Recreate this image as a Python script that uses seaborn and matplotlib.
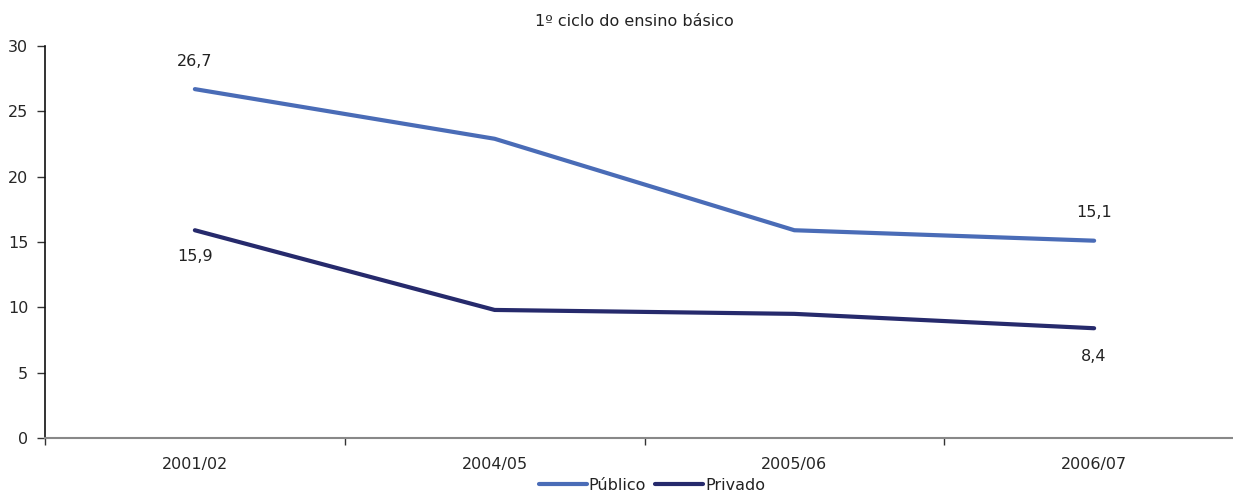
import matplotlib
matplotlib.use("Agg")
import matplotlib.pyplot as plt
import seaborn as sns
import pandas as pd
import numpy as np

years = ["2001/02", "2004/05", "2005/06", "2006/07"]
publico = [26.7, 22.9, 15.9, 15.1]
privado = [15.9, 9.8, 9.5, 8.4]
series = ["Público", "Privado"]
colors = ["#4A6CB7", "#262A6C"]

df = pd.DataFrame({
    "Ano": years * 2,
    "Valor": publico + privado,
    "Ensino": [series[0]] * len(years) + [series[1]] * len(years),
})

sns.set_style("white")
plt.rcParams["font.family"] = ["DejaVu Sans"]
plt.rcParams["text.color"] = "#222222"
fs = 11.5

fig = plt.figure(figsize=(12.33, 4.96), dpi=100)
ax = fig.add_axes([45 / 1233, 58 / 496, 1199 / 1233, 392 / 496])

sns.lineplot(data=df, x="Ano", y="Valor", hue="Ensino", palette=colors,
             linewidth=3, sort=False, ax=ax, legend=True)

ax.set_xlim(-0.5, len(years) - 0.5)
ax.set_ylim(0, 30)
ax.set_yticks(np.arange(0, 31, 5))
ax.set_xticks(range(len(years)))
ax.set_xticklabels(years)
ax.set_xticks(np.arange(-0.5, len(years), 1), minor=True)
ax.tick_params(axis="x", which="major", bottom=True, length=0, pad=14, labelsize=fs)
ax.tick_params(axis="x", which="minor", bottom=True, length=5, width=1,
               color="#333333", direction="out")
ax.tick_params(axis="y", left=True, length=6, width=1, color="#333333",
               direction="out", labelsize=fs, pad=6)
ax.set_xlabel("")
ax.set_ylabel("")

for s in ["top", "right"]:
    ax.spines[s].set_visible(False)
ax.spines["left"].set_color("#111111")
ax.spines["left"].set_linewidth(1.2)
ax.spines["bottom"].set_color("#888888")
ax.spines["bottom"].set_linewidth(1.5)

# data labels at first and last points
last = len(years) - 1
ax.annotate("26,7", (0, publico[0]), xytext=(0, 20), textcoords="offset points",
            ha="center", va="center", fontsize=fs)
ax.annotate("15,9", (0, privado[0]), xytext=(0, -19), textcoords="offset points",
            ha="center", va="center", fontsize=fs)
ax.annotate("15,1", (last, publico[last]), xytext=(0, 20), textcoords="offset points",
            ha="center", va="center", fontsize=fs)
ax.annotate("8,4", (last, privado[last]), xytext=(0, -20), textcoords="offset points",
            ha="center", va="center", fontsize=fs)

fig.text(634 / 1233, 1 - 22 / 496, "1º ciclo do ensino básico", ha="center",
         va="center", fontsize=fs)

handles, labels = ax.get_legend_handles_labels()
ax.legend(handles, labels, loc="center", bbox_to_anchor=(652 / 1233, 1 - 485 / 496),
          bbox_transform=fig.transFigure, ncol=2, frameon=False, fontsize=fs,
          handlelength=3.0, handletextpad=0.1, columnspacing=0.6)

fig.savefig("out.png", dpi=100)
